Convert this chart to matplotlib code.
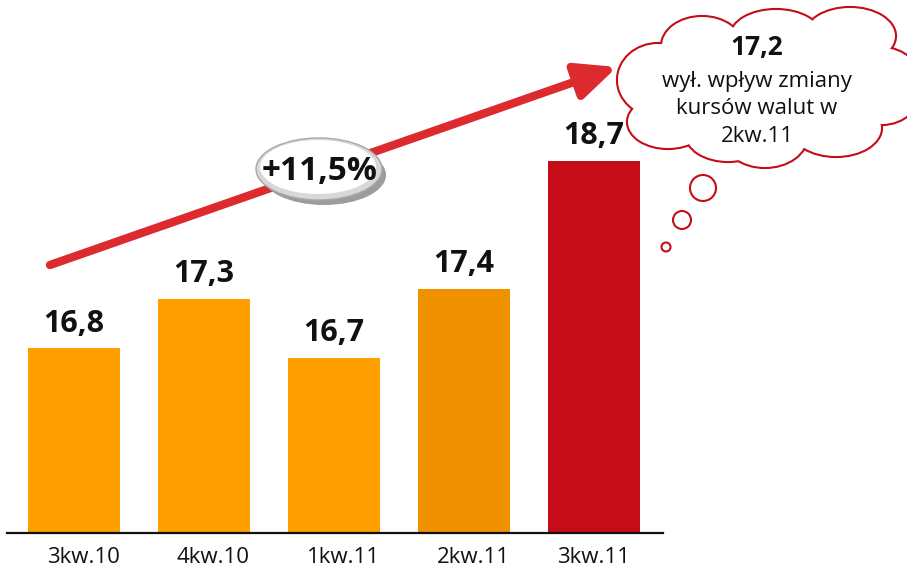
import matplotlib
matplotlib.use("Agg")
import matplotlib.pyplot as plt
from matplotlib.patches import Ellipse, Circle

quarters = ["3kw.10", "4kw.10", "1kw.11", "2kw.11", "3kw.11"]
values = [16.8, 17.3, 16.7, 17.4, 18.7]
value_labels = ["16,8", "17,3", "16,7", "17,4", "18,7"]
bar_colors = ["#FF9F00", "#FF9F00", "#FF9F00", "#F09200", "#C50C18"]
growth_label = "+11,5%"
note_value = "17,2"
note_lines = ["wył. wpływ zmiany", "kursów walut w", "2kw.11"]

W, H = 907, 572
FONT = ["Open Sans", "DejaVu Sans"]
plt.rcParams["font.family"] = FONT

fig = plt.figure(figsize=(W / 100, H / 100), dpi=100)

# bar chart: axes starts at the left end of the base line and stops just after the last bar
left_px, right_px, base_px = 7, 663, 533
ax = fig.add_axes([left_px / W, (H - base_px) / H, (right_px - left_px) / W, base_px / H])
step = 130
first = 67
ax.set_xlim(-first / step, (right_px - left_px - first) / step)
ax.set_ylim(14.93, 14.93 + base_px / 98.8)
xs = list(range(len(values)))
ax.bar(xs, values, width=92 / step, color=bar_colors, zorder=2)
for x, v, lab in zip(xs, values, value_labels):
    ax.annotate(lab, (x, v), xytext=(0, 12), textcoords="offset points",
                ha="center", va="baseline", fontsize=22, fontweight="bold", color="#111111")
for spine in ["top", "right", "left"]:
    ax.spines[spine].set_visible(False)
ax.spines["bottom"].set_linewidth(1.6)
ax.spines["bottom"].set_color("#111111")
ax.set_yticks([])
ax.set_xticks([x + (0.07 if i < 4 else 0) for i, x in enumerate(xs)])
ax.set_xticklabels(quarters, fontsize=16, color="#111111")
ax.tick_params(axis="x", length=0, pad=10)
ax.patch.set_visible(False)

# overlay in pixel units for the trend arrow and the thought cloud
ov = fig.add_axes([0, 0, 1, 1])
ov.set_xlim(0, W)
ov.set_ylim(H, 0)
ov.axis("off")
ov.patch.set_visible(False)

ov.annotate("", xy=(617, 67), xytext=(50, 265),
            arrowprops=dict(arrowstyle="-|>,head_length=1.1,head_width=0.5", lw=6,
                            color="#DC2A2F", shrinkA=0, shrinkB=0, mutation_scale=22),
            zorder=1)

# growth badge
ov.add_patch(Ellipse((324, 175), 124, 60, facecolor="#9C9C9C", edgecolor="none", zorder=3))
ov.add_patch(Ellipse((319, 169), 126, 62, facecolor="#D8D8D8", edgecolor="#A8A8A8", lw=1, zorder=4))
ov.add_patch(Ellipse((318, 167), 116, 54, facecolor="white", edgecolor="none", zorder=5))
ov.text(320, 172, growth_label, ha="center", va="center", fontsize=24,
        fontweight="bold", color="#111111", zorder=6)

# thought cloud
lobes = [
    (658, 80, 40, 36), (668, 122, 40, 26), (728, 134, 42, 27), (765, 136, 42, 31),
    (836, 128, 45, 28), (882, 86, 40, 38), (850, 36, 45, 28), (776, 36, 45, 26),
    (702, 46, 40, 29),
]
red = "#C50C18"
for cx, cy, rx, ry in lobes:
    ov.add_patch(Ellipse((cx, cy), 2 * rx, 2 * ry, facecolor="white", edgecolor=red, lw=3, zorder=7))
for cx, cy, rx, ry in lobes:
    ov.add_patch(Ellipse((cx, cy), 2 * rx, 2 * ry, facecolor="white", edgecolor="none", zorder=8))
ov.add_patch(Ellipse((768, 88), 220, 110, facecolor="white", edgecolor="none", zorder=8))
for cx, cy, r in [(703, 188, 13), (682, 220, 9), (666, 247, 4.5)]:
    ov.add_patch(Circle((cx, cy), r, facecolor="white", edgecolor=red, lw=1.5, zorder=7))

ov.text(757, 48, note_value, ha="center", va="center", fontsize=19,
        fontweight="bold", color="#111111", zorder=9)
for i, line in enumerate(note_lines):
    ov.text(757, 81 + 28 * i, line, ha="center", va="center", fontsize=16,
            color="#111111", zorder=9)

fig.savefig("out.png", dpi=100)
